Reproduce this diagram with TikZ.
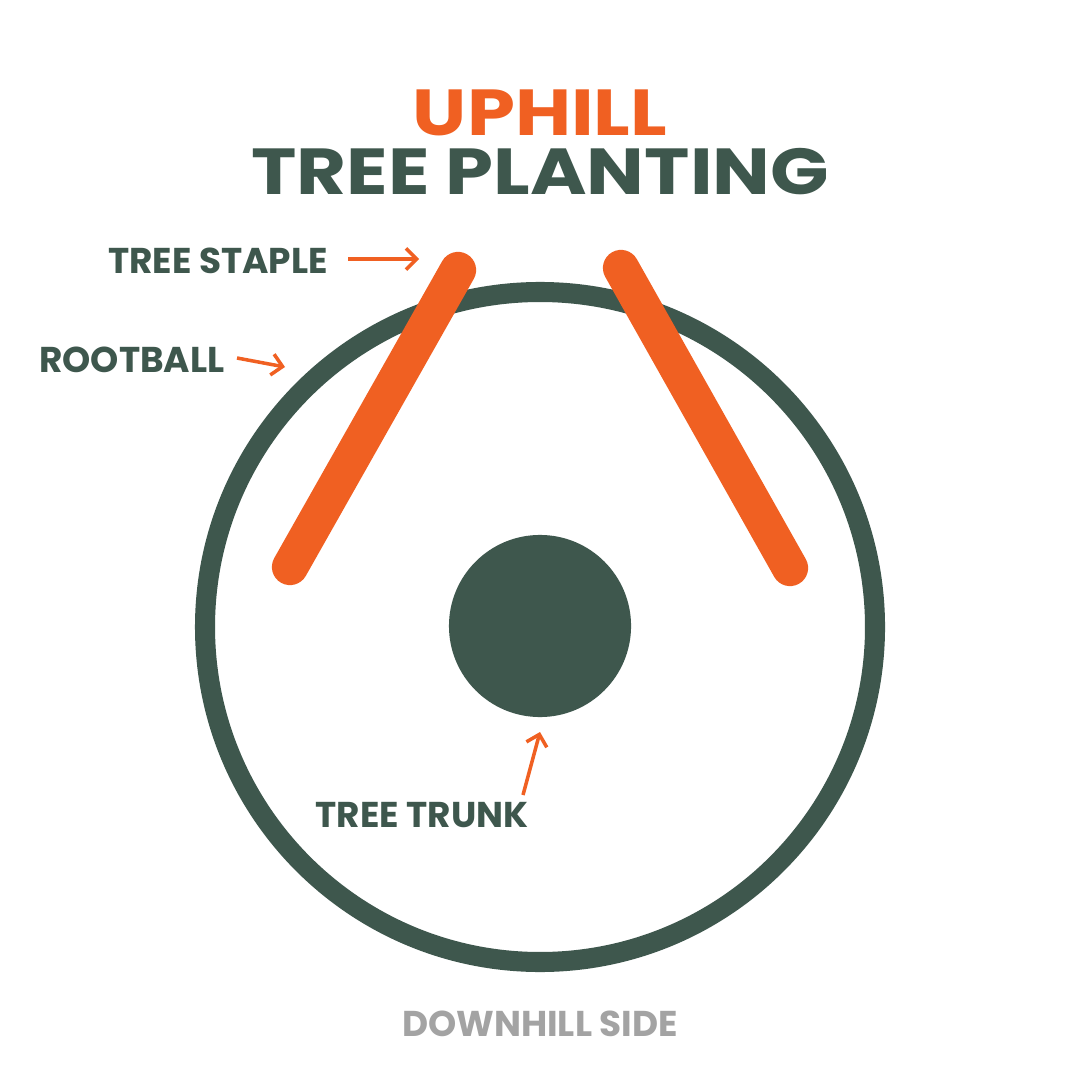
\documentclass[tikz,border=0pt]{standalone}
\usepackage{fontspec}
\setmainfont{Poppins}
\newfontfamily\titlefont{Poppins}[FakeStretch=1.18]
\definecolor{tpgreen}{RGB}{62,87,77}
\definecolor{tporange}{RGB}{240,96,34}
\definecolor{tpgray}{RGB}{163,163,163}
\usetikzlibrary{arrows.meta,positioning}

\begin{document}
\begin{tikzpicture}[x=0.01cm,y=-0.01cm,
    lbl/.style={inner sep=0pt,text=tpgreen,font=\fontsize{10.2}{10.2}\selectfont\bfseries},
    ptr/.style={draw=tporange,line width=1pt,-{Straight Barb[length=3pt,width=6pt,line width=1pt]}},
    staple/.style={draw=tporange,line width=10.3pt,line cap=round}]
  \useasboundingbox[fill=white] (0,0) rectangle (1080,1080);

  \node[inner sep=0pt,text=tporange,font=\fontsize{18.5}{18.5}\titlefont\bfseries] (uphill) at (540,113) {UPHILL};
  \node[inner sep=0pt,text=tpgreen,font=\fontsize{18.5}{18.5}\titlefont\bfseries] (planting) at (540,172) {TREE PLANTING};

  \draw[tpgreen,line width=5.7pt] (540,627) circle (335);
  \node[circle,fill=tpgreen,minimum size=1.82cm,inner sep=0pt] (trunk) at (540,626) {};

  \draw[staple] (458,270) -- (290,567);
  \draw[staple] (621,268) -- (790,568);

  \node[lbl] (staplelbl) at (218,261) {TREE STAPLE};
  \node[lbl] (rootlbl) at (132,360) {ROOTBALL};
  \node[lbl] (trunklbl) at (422,815) {TREE TRUNK};
  \node[inner sep=0pt,text=tpgray,font=\fontsize{10.2}{10.2}\selectfont\bfseries] (downhill) at (540,1024) {DOWNHILL SIDE};

  \coordinate (staplept) at (419,259);
  \coordinate (rootpt) at (285,367);
  \coordinate (trunkpt) at (540,732);
  \draw[ptr] (348,259) -- (staplept);
  \draw[ptr] (237,358) -- (rootpt);
  \draw[ptr] (523,795) -- (trunkpt);
\end{tikzpicture}
\end{document}
